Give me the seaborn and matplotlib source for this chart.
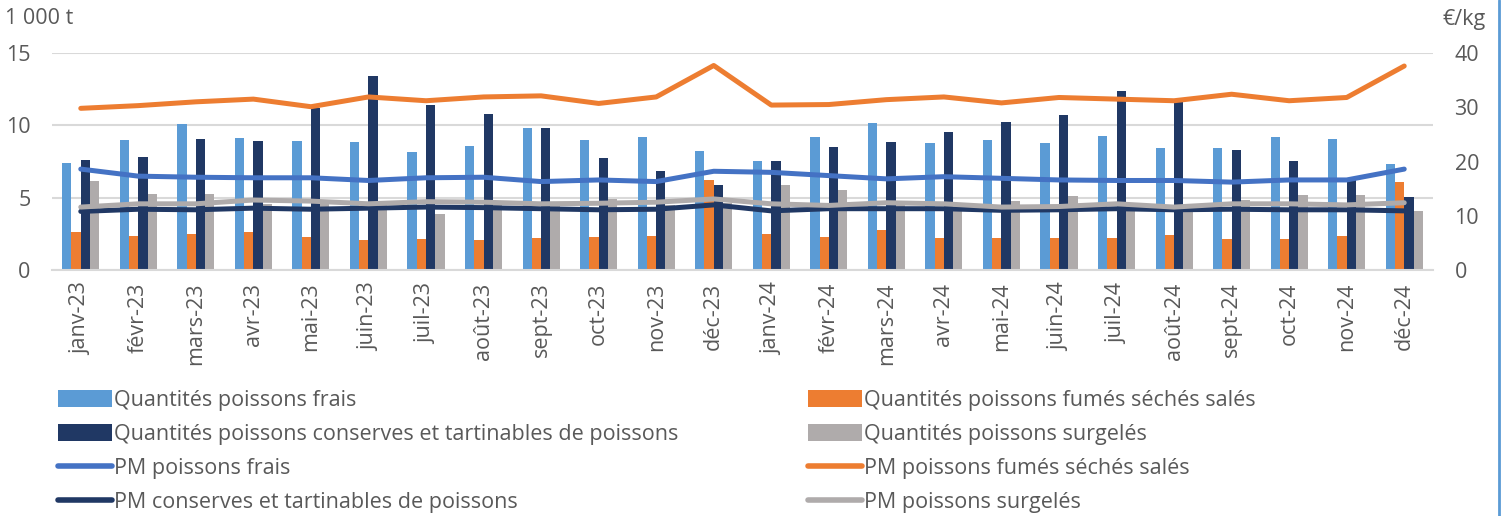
import numpy as np
import pandas as pd
import matplotlib
matplotlib.use("Agg")
import matplotlib.pyplot as plt
from matplotlib.lines import Line2D
from matplotlib.patches import Patch
import seaborn as sns

# Monthly categories
mois = ["janv-23", "févr-23", "mars-23", "avr-23", "mai-23", "juin-23",
        "juil-23", "août-23", "sept-23", "oct-23", "nov-23", "déc-23",
        "janv-24", "févr-24", "mars-24", "avr-24", "mai-24", "juin-24",
        "juil-24", "août-24", "sept-24", "oct-24", "nov-24", "déc-24"]

# Quantities (1 000 t)
q_frais = [7.37, 8.98, 10.07, 9.14, 8.89, 8.85, 8.13, 8.57, 9.81, 8.96, 9.19, 8.22,
           7.55, 9.19, 10.18, 8.78, 8.98, 8.75, 9.26, 8.43, 8.45, 9.21, 9.07, 7.33]
q_fumes = [2.65, 2.35, 2.49, 2.63, 2.26, 2.07, 2.12, 2.07, 2.21, 2.26, 2.37, 6.24,
           2.46, 2.26, 2.79, 2.19, 2.23, 2.19, 2.19, 2.40, 2.12, 2.17, 2.35, 6.08]
q_conserves = [7.60, 7.81, 9.07, 8.89, 11.17, 13.43, 11.38, 10.80, 9.79, 7.72, 6.84, 5.87,
               7.55, 8.52, 8.85, 9.54, 10.25, 10.74, 12.39, 11.63, 8.32, 7.53, 6.22, 5.07]
q_surgeles = [6.17, 5.27, 5.27, 4.55, 4.80, 4.50, 3.89, 4.60, 4.50, 4.93, 4.50, 4.60,
              5.87, 5.55, 4.60, 4.50, 4.77, 5.11, 4.60, 4.50, 4.84, 5.18, 5.16, 4.08]

# Average prices (€/kg)
pm_frais = [18.6, 17.3, 17.1, 17.0, 17.0, 16.5, 17.0, 17.1, 16.3, 16.6, 16.3, 18.2,
            18.0, 17.4, 16.8, 17.2, 16.9, 16.6, 16.5, 16.5, 16.2, 16.6, 16.6, 18.6]
pm_fumes = [29.8, 30.3, 31.0, 31.5, 30.1, 31.9, 31.2, 31.9, 32.1, 30.7, 31.9, 37.7,
            30.4, 30.5, 31.4, 31.9, 30.8, 31.8, 31.5, 31.2, 32.4, 31.2, 31.8, 37.6]
pm_conserves = [10.8, 11.2, 11.1, 11.4, 11.2, 11.4, 11.6, 11.5, 11.3, 11.1, 11.2, 12.0,
                10.9, 11.3, 11.3, 11.3, 11.0, 11.1, 11.3, 11.1, 11.2, 11.1, 11.1, 10.9]
pm_surgeles = [11.6, 12.2, 12.2, 12.9, 12.7, 12.2, 12.6, 12.5, 12.2, 12.3, 12.5, 13.1,
               12.2, 11.9, 12.4, 12.2, 11.6, 11.7, 12.2, 11.6, 12.2, 12.2, 12.0, 12.4]

bar_labels = ["Quantités poissons frais", "Quantités poissons fumés séchés salés",
              "Quantités poissons conserves et tartinables de poissons",
              "Quantités poissons surgelés"]
line_labels = ["PM poissons frais", "PM poissons fumés séchés salés",
               "PM conserves et tartinables de poissons", "PM poissons surgelés"]

bar_colors = ["#5B9BD5", "#ED7D31", "#203864", "#AFABAB"]
line_colors = ["#4472C4", "#ED7D31", "#203864", "#AFABAB"]

TXT = "#595959"
FS = 15.5
sns.set_theme(style="white")
plt.rcParams["font.family"] = ["Open Sans", "DejaVu Sans"]

df = pd.DataFrame({
    "mois": np.tile(mois, 4),
    "serie": np.repeat(bar_labels, len(mois)),
    "val": np.concatenate([q_frais, q_fumes, q_conserves, q_surgeles]),
})

W, H = 1502, 516
fig = plt.figure(figsize=(W / 100, H / 100), dpi=100)
ax = fig.add_axes([52 / W, 1 - 270 / H, (1433 - 52) / W, 217 / H])

# Clustered bars: four quantity series per month
sns.barplot(data=df, x="mois", y="val", hue="serie", hue_order=bar_labels,
            order=mois, palette=bar_colors, width=0.645, gap=0,
            saturation=1, ax=ax, legend=False, errorbar=None,
            edgecolor="none", linewidth=0)

ax.set_ylim(0, 15)
ax.set_yticks([0, 5, 10, 15])
ax.set_xlim(-0.5, len(mois) - 0.5)
ax.set_axisbelow(True)
ax.yaxis.grid(True, color="#D9D9D9", linewidth=1.5)
for s in ["top", "right", "left"]:
    ax.spines[s].set_visible(False)
ax.spines["bottom"].set_color("#D9D9D9")
ax.spines["bottom"].set_linewidth(1.5)
ax.set_xlabel("")
ax.set_ylabel("")
ax.tick_params(axis="y", length=0, pad=15.5, labelsize=FS, labelcolor=TXT)
ax.tick_params(axis="x", length=0, pad=9, labelsize=FS, labelcolor=TXT)
for lbl in ax.get_xticklabels():
    lbl.set_rotation(90)

# Average prices on the secondary axis
ax2 = ax.twinx()
xs = np.arange(len(mois))
for vals, col, lab in zip([pm_frais, pm_fumes, pm_conserves, pm_surgeles], line_colors, line_labels):
    sns.lineplot(x=xs, y=vals, color=col, linewidth=3.6, ax=ax2,
                 solid_capstyle="round", label=lab, legend=False)
ax2.set_ylim(0, 40)
ax2.set_yticks([0, 10, 20, 30, 40])
for s in ["top", "right", "left", "bottom"]:
    ax2.spines[s].set_visible(False)
ax2.tick_params(axis="y", length=0, pad=15.5, labelsize=FS, labelcolor=TXT)
ax2.set_ylabel("")
ax2.grid(False)

fig.text(5 / W, 1 - 19 / H, "1 000 t", fontsize=FS, color=TXT, va="center", ha="left")
fig.text(1486 / W, 1 - 19 / H, "€/kg", fontsize=FS, color=TXT, va="center", ha="right")

bar_h = [Patch(facecolor=c, edgecolor="none") for c in bar_colors]
line_h = [Line2D([], [], color=c, linewidth=4, solid_capstyle="round") for c in line_colors]

col1_h = [bar_h[0], bar_h[2], line_h[0], line_h[2]]
col1_l = [bar_labels[0], bar_labels[2], line_labels[0], line_labels[2]]
col2_h = [bar_h[1], bar_h[3], line_h[1], line_h[3]]
col2_l = [bar_labels[1], bar_labels[3], line_labels[1], line_labels[3]]

leg_kw = dict(loc="upper left", frameon=False, fontsize=FS, labelcolor=TXT,
              handlelength=2.5, handleheight=0.8, handletextpad=0.12,
              labelspacing=0.6, borderaxespad=0, borderpad=0)
fig.legend(col1_h, col1_l, bbox_to_anchor=(58 / W, 1 - 390 / H), **leg_kw)
fig.legend(col2_h, col2_l, bbox_to_anchor=(808 / W, 1 - 390 / H), **leg_kw)

fig.add_artist(Line2D([1499 / W, 1499 / W], [0, 1], color="#5B9BD5",
                      linewidth=2, transform=fig.transFigure))

fig.savefig("out.png", dpi=100, facecolor="white")
